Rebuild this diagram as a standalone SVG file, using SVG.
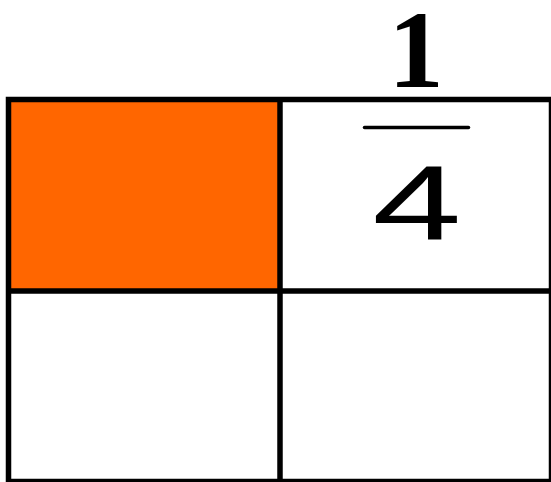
<svg xmlns="http://www.w3.org/2000/svg" width="551" height="482" viewBox="0 0 551 482">
<style>
.grid{fill:none;stroke:#000;stroke-width:5.5}
.num1{font-family:"Liberation Serif","Times New Roman",serif;font-weight:bold;font-size:111px;fill:#000}
.num4{font-family:"Liberation Sans",Arial,sans-serif;font-size:105px;fill:#000}
</style>
<rect width="551" height="482" fill="#fff"/>
<g id="cell-shaded">
<rect x="8.5" y="99.5" width="271.5" height="191.5" fill="#FF6600"/>
</g>
<g id="grid">
<rect class="grid" x="8.5" y="99.5" width="543" height="382"/>
<line class="grid" x1="280" y1="99.5" x2="280" y2="482"/>
<line class="grid" x1="8.5" y1="291" x2="551" y2="291"/>
</g>
<g id="fraction">
<text class="num1" x="416" y="87" text-anchor="middle">1</text>
<line x1="364.5" y1="127.5" x2="468.5" y2="127.5" stroke="#000" stroke-width="3.5" stroke-linecap="round"/>
<text class="num4" transform="translate(417,240) scale(1.53,1)" x="0" y="0" text-anchor="middle">4</text>
</g>
</svg>
